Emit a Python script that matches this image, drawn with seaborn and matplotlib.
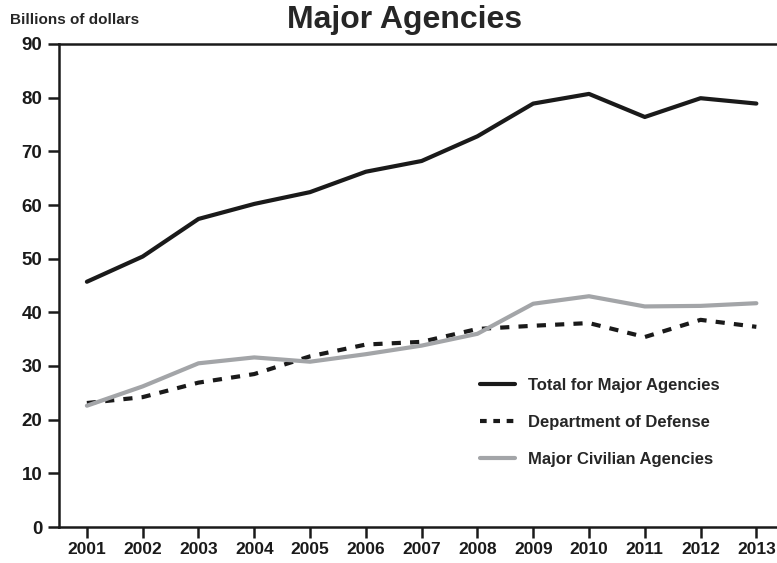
import matplotlib
matplotlib.use("Agg")
import matplotlib.pyplot as plt
import seaborn as sns
import pandas as pd

# data
years = [2001, 2002, 2003, 2004, 2005, 2006, 2007, 2008, 2009, 2010, 2011, 2012, 2013]
total = [45.7, 50.4, 57.4, 60.2, 62.4, 66.2, 68.2, 72.8, 78.9, 80.7, 76.4, 79.9, 78.9]
defense = [23.1, 24.2, 26.9, 28.5, 31.8, 34.0, 34.5, 36.9, 37.5, 38.0, 35.4, 38.6, 37.3]
civilian = [22.6, 26.2, 30.5, 31.6, 30.8, 32.2, 33.8, 36.0, 41.6, 43.0, 41.1, 41.2, 41.7]

series_names = ["Total for Major Agencies", "Department of Defense", "Major Civilian Agencies"]

df = pd.DataFrame({
    "year": years * 3,
    "value": total + defense + civilian,
    "series": [series_names[0]] * 13 + [series_names[1]] * 13 + [series_names[2]] * 13,
})

sns.set_style("ticks")
plt.rcParams["font.family"] = ["Liberation Sans", "DejaVu Sans"]
plt.rcParams["font.weight"] = "bold"

fig = plt.figure(figsize=(7.77, 5.63), dpi=100)
ax = fig.add_axes([59 / 777, 1 - 527 / 563, (777 - 59) / 777, (527 - 44) / 563])

palette = {series_names[0]: "#1a1a1a", series_names[1]: "#1a1a1a", series_names[2]: "#a3a5a8"}
sns.lineplot(data=df, x="year", y="value", hue="series", palette=palette, ax=ax,
             linewidth=3, legend=False)
ax.lines[1].set_dashes([2.2, 2.2])

ax.set_xlim(2000.5, 2013.37)
ax.set_ylim(0, 90)
ax.set_xticks(years)
ax.set_yticks(range(0, 91, 10))
ax.set_xlabel("")
ax.set_ylabel("")
for s in ["left", "bottom", "top"]:
    ax.spines[s].set_linewidth(1.8)
    ax.spines[s].set_color("#1a1a1a")
ax.spines["right"].set_visible(False)
ax.tick_params(axis="both", length=8, width=1.8, colors="#1a1a1a", labelsize=12.5)
ax.tick_params(axis="y", pad=4, labelsize=13.5)
ax.tick_params(axis="x", pad=3)
for lbl in ax.get_xticklabels() + ax.get_yticklabels():
    lbl.set_fontweight("bold")

# legend
handles = [
    plt.Line2D([], [], color="#1a1a1a", lw=3),
    plt.Line2D([], [], color="#1a1a1a", lw=3, dashes=[1.6, 1.6]),
    plt.Line2D([], [], color="#a3a5a8", lw=3),
]
leg = ax.legend(handles, series_names, loc="upper left", bbox_to_anchor=(0.565, 0.34),
                frameon=False, fontsize=12, handlelength=2.1, handletextpad=0.8,
                labelspacing=1.33)
for t in leg.get_texts():
    t.set_fontweight("bold")

fig.text(405 / 777, 1 - 20 / 563, "Major Agencies", ha="center", va="center",
         fontsize=23, fontweight="bold")
fig.text(10 / 777, 1 - 20 / 563, "Billions of dollars", ha="left", va="center",
         fontsize=11, fontweight="bold")

fig.savefig("out.png", dpi=100)
